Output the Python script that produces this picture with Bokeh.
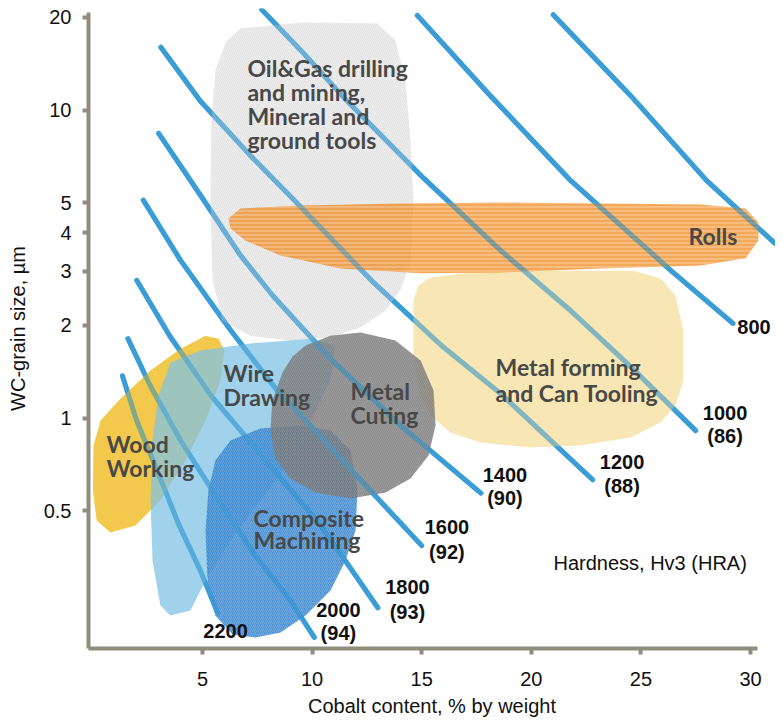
from bokeh.plotting import figure
from bokeh.models import FixedTicker, Range1d, CustomJSTickFormatter
from bokeh.core.properties import value
from bokeh.embed import file_html
from bokeh.resources import INLINE

# ---------------- data ----------------
x_ticks = [5, 10, 15, 20, 25, 30]
y_ticks = [0.5, 1, 2, 3, 4, 5, 10, 20]

# hardness iso-lines (cobalt %, grain size um)
hv_unlabeled_x = [21.0, 24.5, 28.0, 31.1]
hv_unlabeled_y = [20.4, 11.2, 5.9, 3.7]
hv800_x = [14.8, 18.1, 21.8, 26.4, 29.2]
hv800_y = [20.3, 11.2, 5.9, 3.0, 2.03]
hv1000_x = [7.7, 9.5, 11.6, 15.1, 18.6, 21.8, 24.7, 27.5]
hv1000_y = [21.2, 15.6, 10.7, 6.0, 3.5, 2.23, 1.43, 0.91]
hv1200_x = [3.1, 4.9, 7.2, 9.3, 12.7, 15.9, 18.6, 22.8]
hv1200_y = [16.0, 10.7, 7.1, 5.0, 2.8, 1.72, 1.2, 0.63]
hv1400_x = [3.0, 4.9, 6.7, 8.2, 10.8, 14.0, 17.7]
hv1400_y = [8.4, 5.3, 3.4, 2.5, 1.57, 0.95, 0.57]
hv1600_x = [2.3, 4.0, 6.3, 8.4, 9.6, 12.2, 15.0]
hv1600_y = [5.1, 3.25, 1.92, 1.23, 1.0, 0.63, 0.385]
hv1800_x = [2.0, 3.5, 5.4, 7.7, 10.4, 13.0]
hv1800_y = [2.8, 1.85, 1.18, 0.755, 0.448, 0.242]
hv2000_x = [1.6, 2.6, 4.0, 5.6, 7.4, 9.0, 10.1]
hv2000_y = [1.81, 1.28, 0.845, 0.56, 0.358, 0.256, 0.194]
hv2200_x = [1.35, 2.0, 3.1, 3.9, 4.9, 5.7]
hv2200_y = [1.37, 0.98, 0.63, 0.454, 0.32, 0.232]

hv_label_text = ["800", "1000", "1200", "1400", "1600", "1800", "2000", "2200"]
hv_label_x = [30.16, 28.84, 24.14, 18.80, 16.15, 14.35, 11.20, 6.05]
hv_label_y = [1.97, 1.042, 0.717, 0.6506, 0.441, 0.2836, 0.2388, 0.204]
hra_label_text = ["(86)", "(88)", "(90)", "(92)", "(93)", "(94)"]
hra_label_x = [28.84, 24.14, 18.80, 16.15, 14.35, 11.20]
hra_label_y = [0.877, 0.6035, 0.548, 0.3658, 0.2352, 0.1996]

# application regions (outline vertices, cobalt %, grain size um)
oil_x = [6.73, 9.47, 12.98, 13.80, 14.26, 14.49, 14.62, 14.49, 14.03, 13.35, 12.21, 10.84, 9.01, 7.19, 5.91, 5.46, 5.36, 5.41, 5.59, 6.05]
oil_y = [18.41, 19.26, 19.11, 16.84, 12.48, 7.97, 5.09, 3.25, 2.60, 2.23, 1.97, 1.83, 1.785, 1.85, 2.07, 2.80, 5.09, 9.25, 13.45, 16.59]
rolls_x = [6.19, 6.73, 9.47, 14.03, 18.60, 23.16, 27.72, 29.77, 30.36, 30.36, 29.77, 27.72, 23.16, 18.60, 14.95, 11.30, 8.56, 6.96, 6.28]
rolls_y = [4.45, 4.79, 4.90, 4.97, 5.01, 4.97, 4.94, 4.79, 4.315, 3.77, 3.30, 3.13, 3.06, 2.97, 2.95, 3.06, 3.37, 3.77, 4.125]
forming_x = [14.62, 14.85, 15.40, 17.23, 20.87, 24.66, 25.89, 26.58, 26.94, 26.94, 26.58, 25.89, 24.53, 22.24, 19.96, 17.68, 16.31, 15.40, 14.85, 14.62]
forming_y = [2.41, 2.69, 2.86, 2.97, 3.01, 3.01, 2.84, 2.50, 1.92, 1.324, 1.098, 0.967, 0.864, 0.814, 0.802, 0.833, 0.897, 1.019, 1.228, 1.657]
cutting_x = [9.70, 10.84, 12.21, 13.80, 14.95, 15.54, 15.63, 15.31, 14.49, 13.35, 11.75, 10.15, 9.01, 8.33, 8.10, 8.19, 8.65, 9.11]
cutting_y = [1.72, 1.85, 1.895, 1.785, 1.538, 1.228, 0.945, 0.755, 0.636, 0.573, 0.548, 0.573, 0.636, 0.739, 0.911, 1.14, 1.405, 1.584]
wire_x = [3.54, 4.91, 7.19, 9.93, 11.07, 10.84, 9.93, 9.01, 7.65, 6.28, 5.14, 4.45, 3.54, 3.08, 2.72, 2.63, 2.72, 2.99]
wire_y = [1.514, 1.657, 1.746, 1.81, 1.72, 1.324, 0.981, 0.728, 0.540, 0.400, 0.2966, 0.237, 0.2283, 0.246, 0.3444, 0.540, 0.845, 1.183]
wood_x = [0.03, 0.35, 1.26, 2.63, 4.00, 5.14, 5.73, 6.00, 5.82, 5.14, 4.22, 3.08, 1.94, 0.80, 0.17, 0.0]
wood_y = [0.814, 0.981, 1.157, 1.427, 1.68, 1.85, 1.81, 1.657, 1.324, 0.981, 0.728, 0.540, 0.448, 0.4248, 0.4647, 0.581]
comp_x = [6.28, 7.65, 9.47, 10.84, 11.75, 12.07, 11.98, 11.52, 10.84, 9.70, 8.56, 7.42, 6.37, 5.59, 5.23, 5.14, 5.27, 5.59]
comp_y = [0.845, 0.925, 0.945, 0.911, 0.784, 0.581, 0.431, 0.3444, 0.2752, 0.2283, 0.201, 0.1937, 0.198, 0.2283, 0.2966, 0.431, 0.581, 0.728]

region_label_text = ["Oil&Gas drilling", "and mining,", "Mineral and", "ground tools", "Rolls",
                     "Metal forming", "and Can Tooling", "Metal", "Cuting", "Wire", "Drawing",
                     "Wood", "Working", "Composite", "Machining"]
region_label_x = [7.05, 7.05, 7.05, 7.05, 27.17, 18.37, 18.37, 11.75, 11.75, 5.96, 5.96, 0.62, 0.62, 7.33, 7.33]
region_label_y = [13.75, 11.41, 9.60, 7.97, 3.887, 1.459, 1.210, 1.228, 1.019, 1.405, 1.166, 0.8264, 0.6906, 0.4751, 0.4001]

# ---------------- figure ----------------
AXIS_COLOR = "#8e8d7e"
LINE_COLOR = "#3b9dd6"

p = figure(frame_width=687, frame_height=640,
           x_range=Range1d(-0.2, 31.14), y_range=Range1d(0.1784, 21.38),
           y_axis_type="log", output_backend="svg", toolbar_location=None,
           min_border_left=88, min_border_top=8, min_border_right=0, min_border_bottom=0,
           outline_line_color=None, background_fill_color="white", border_fill_color="white")
p.grid.visible = False

p.xaxis.ticker = FixedTicker(ticks=x_ticks)
p.yaxis.ticker = FixedTicker(ticks=y_ticks)
p.yaxis.formatter = CustomJSTickFormatter(code="return String(tick)")
p.xaxis.bounds = (-0.2, 30.3)
p.yaxis.bounds = (0.1784, 20.75)
p.xaxis.axis_label = "Cobalt content, % by weight"
p.yaxis.axis_label = "WC-grain size, \u00b5m"
for ax in (p.xaxis, p.yaxis):
    ax.axis_line_color = AXIS_COLOR
    ax.axis_line_width = 4
    ax.major_tick_line_color = AXIS_COLOR
    ax.major_tick_line_width = 4
    ax.major_tick_out = 6
    ax.major_tick_in = 0
    ax.minor_tick_line_color = None
    ax.major_label_text_font = "Liberation Sans"
    ax.major_label_text_font_size = "20px"
    ax.major_label_text_color = "#111111"
    ax.axis_label_text_font = "Liberation Sans"
    ax.axis_label_text_font_size = "20px"
    ax.axis_label_text_font_style = "normal"
    ax.axis_label_text_color = "#111111"
p.xaxis.major_label_standoff = 17
p.xaxis.axis_label_standoff = 6
p.yaxis.major_label_standoff = 11
p.yaxis.axis_label_standoff = 12

lines = [(hv_unlabeled_x, hv_unlabeled_y), (hv800_x, hv800_y), (hv1000_x, hv1000_y),
         (hv1200_x, hv1200_y), (hv1400_x, hv1400_y), (hv1600_x, hv1600_y),
         (hv1800_x, hv1800_y), (hv2000_x, hv2000_y), (hv2200_x, hv2200_y)]

# lines beneath the regions
for lx, ly in lines:
    p.line(lx, ly, line_color=LINE_COLOR, line_width=5, line_cap="round", line_join="round")

def region(xs, ys, color, alpha, hatch=None, hatch_color="white", hatch_alpha=0.3, hatch_scale=4.0):
    kw = dict(fill_color=color, fill_alpha=alpha, line_color=None)
    if hatch:
        kw.update(hatch_pattern=hatch, hatch_color=hatch_color, hatch_alpha=hatch_alpha,
                  hatch_scale=hatch_scale, hatch_weight=1)
    p.patch(xs, ys, **kw)

region(oil_x, oil_y, "#c9c9c9", 0.5, "/", "white", 0.35, 4)
region(forming_x, forming_y, "#f5dd9b", 0.75)
region(rolls_x, rolls_y, "#ee8314", 0.7, "-", "white", 0.45, 4)
region(wood_x, wood_y, "#f0bb20", 0.8)
region(wire_x, wire_y, "#80c3e4", 0.75)
region(comp_x, comp_y, "#2c7ecb", 0.85, "/", "white", 0.25, 4)
region(cutting_x, cutting_y, "#737373", 0.8, "/", "#b0b0b0", 0.35, 4)

# lines faintly over the regions
for lx, ly in lines:
    p.line(lx, ly, line_color=LINE_COLOR, line_width=5, line_alpha=0.5, line_cap="round", line_join="round")

p.text(x=region_label_x, y=region_label_y, text=region_label_text,
       text_font=value("Lato"), text_font_style="bold", text_font_size="23px",
       text_color="#484848", text_align="left", text_baseline="middle")

p.text(x=hv_label_x, y=hv_label_y, text=hv_label_text,
       text_font=value("Liberation Sans"), text_font_style="bold", text_font_size="20px",
       text_color="#111111", text_align="center", text_baseline="middle")
p.text(x=hra_label_x, y=hra_label_y, text=hra_label_text,
       text_font=value("Liberation Sans"), text_font_style="bold", text_font_size="20px",
       text_color="#111111", text_align="center", text_baseline="middle")

p.text(x=[21.01], y=[0.337], text=["Hardness, Hv3 (HRA)"],
       text_font=value("Liberation Sans"), text_font_size="20px",
       text_color="#111111", text_align="left", text_baseline="middle")

open("out.html", "w").write(file_html(p, INLINE))
